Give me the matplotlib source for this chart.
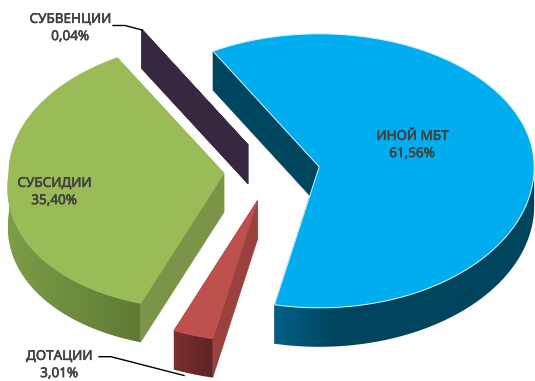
# ---------------------------------------------------------------------------- #
# NEEDED IMPORTS

import matplotlib
matplotlib.use('Agg')
import matplotlib.pyplot as plt
import matplotlib.patheffects as pe
import numpy as np
from matplotlib.colors import to_rgb
from matplotlib.patches import Polygon

# ---------------------------------------------------------------------------- #
# DATA

names = ['ИНОЙ МБТ', 'ДОТАЦИИ', 'СУБСИДИИ', 'СУБВЕНЦИИ']
shares = [61.56, 3.01, 35.40, 0.04]

top_colors = ['#00AEEF', '#BE504D', '#9BBB59', '#3A2B45']
side_colors = ['#00465F', '#9A413E', '#7C9448', '#362840']
rim_left = ['#006087', '#7C302F', '#7E9C49', '#362840']
rim_right = ['#00445D', '#5D2423', '#5E7933', '#362840']

# ---------------------------------------------------------------------------- #
# PIE GEOMETRY (pixels)

CX, CY = 271.8, 171.5
RX, RY_UP, RY_DOWN = 215, 133, 141
RY_MID = 137
DEPTH = 39
EXPLODE = 0.223
START = 330.4  # clockwise from twelve o'clock


def rim_point(apex, theta):
    t = np.radians(theta)
    ry = RY_UP if np.cos(t) > 0 else RY_DOWN
    # the front left of the pie sits closer to the camera and bulges a little
    wrapped = theta % 360
    bulge = 1.0
    if 203 < wrapped < 270:
        bulge += 0.04 * np.sin(np.pi * (wrapped - 203) / 67)
    return apex[0] + bulge * RX * np.sin(t), apex[1] - bulge * ry * np.cos(t)


def arc(apex, a, b, n=120):
    return [rim_point(apex, th) for th in np.linspace(a, b, n)]


def drop(points):
    return [(x, y + DEPTH) for x, y in points]


def visible_rim(a, b):
    # only the front half of the side wall can be seen
    ranges = []
    for shift in (0, 360, -360):
        lo, hi = max(a + shift, 90), min(b + shift, 270)
        if hi > lo:
            ranges.append((lo, hi))
    return ranges


fig = plt.figure(figsize=(5.35, 3.81), dpi=100)
ax = fig.add_axes([0, 0, 1, 1])

fractions = np.array(shares) / np.sum(shares)
sweeps = fractions * 360
starts = START + np.concatenate(([0], np.cumsum(sweeps)[:-1]))

# ---------------------------------------------------------------------------- #
# SLICES

for i in [3, 2, 1, 0]:
    a, b = starts[i], starts[i] + sweeps[i]
    mid = np.radians((a + b) / 2)
    apex = (CX + EXPLODE * RX * np.sin(mid), CY - EXPLODE * RY_MID * np.cos(mid))

    # flat walls along both radii
    for th in (a, b):
        edge = [apex, rim_point(apex, th)]
        ax.add_patch(Polygon(edge + drop(edge)[::-1], closed=True,
                             fc=side_colors[i], ec=side_colors[i], lw=0.4))

    # curved wall, shaded from left to right
    for lo, hi in visible_rim(a, b):
        pts = arc(apex, lo, hi, 160)
        shape = pts + drop(pts)[::-1]
        xs = np.array([p[0] for p in shape])
        ys = np.array([p[1] for p in shape])
        x0, x1 = xs.min(), xs.max()
        c1, c0 = np.array(to_rgb(rim_left[i])), np.array(to_rgb(rim_right[i]))
        if i == 0:
            # the blue wall only lightens close to its left end
            s = np.clip(np.linspace(0, x1 - x0, 256) / 60, 0, 1)
        else:
            s = np.linspace(0, 1, 256)
        gradient = (c1[None, :] + (c0 - c1)[None, :] * s[:, None])[None, :, :]
        im = ax.imshow(gradient, extent=(x0, x1, ys.max(), ys.min()),
                       aspect='auto', interpolation='bilinear', zorder=2)
        im.set_clip_path(Polygon(shape, closed=True, transform=ax.transData))

    # top face
    outline = [apex] + arc(apex, a, b, 240)
    edge_color = '#D5F0FB' if i == 0 else top_colors[i]
    ax.add_patch(Polygon(outline, closed=True, fc=top_colors[i],
                         ec=edge_color, lw=0.7, joinstyle='miter', zorder=3))

# ---------------------------------------------------------------------------- #
# LABELS

label_xy = [(412, 145), (59, 365), (54, 192), (70, 28)]
for name, share, (x, y) in zip(names, shares, label_xy):
    text = name + '\n' + f'{share:.2f}%'.replace('.', ',')
    ax.text(x, y, text, ha='center', va='center', ma='center', color='#404040',
            fontsize=9.7, linespacing=1.42, zorder=5,
            family=['Noto Sans', 'DejaVu Sans'],
            path_effects=[pe.withStroke(linewidth=0.4, foreground='#404040')])

# Leader lines
ax.plot([113, 125, 142], [25.5, 25.5, 30], color='black', lw=1, zorder=4)
ax.plot([99, 111, 184], [356.7, 356.7, 375.5], color='black', lw=1, zorder=4)

ax.set_xlim(0, 535)
ax.set_ylim(381, 0)
ax.axis('off')

fig.savefig('out.png', dpi=100)

# end of file #
